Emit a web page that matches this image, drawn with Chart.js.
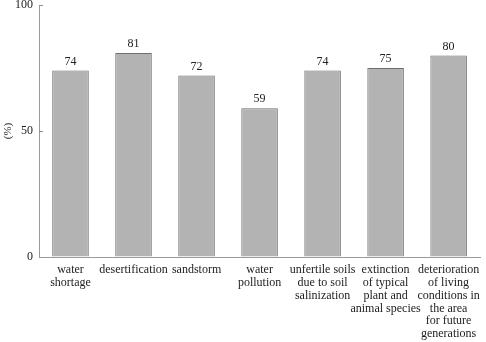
<!DOCTYPE html>
<html>
<head>
<meta charset="utf-8">
<script src="https://cdn.jsdelivr.net/npm/chart.js@4"></script>
<style>
  html, body { margin: 0; padding: 0; background: #fff; }
  #wrap { width: 486px; height: 342px; }
</style>
</head>
<body>
<div id="wrap"><canvas id="chart"></canvas></div>
<script>
// categories (multi-line labels) and values in %
const categories = [
  ['water', 'shortage'],
  ['desertification'],
  ['sandstorm'],
  ['water', 'pollution'],
  ['unfertile soils', 'due to soil', 'salinization'],
  ['extinction', 'of typical', 'plant and', 'animal species'],
  ['deterioration', 'of living', 'conditions in', 'the area', 'for future', 'generations']
];
const values = [74, 81, 72, 59, 74, 75, 80];
const yTicks = [0, 50, 100];

const serif = '"Liberation Serif", "Times New Roman", serif';

// numbers above each bar
const valueLabels = {
  id: 'valueLabels',
  afterDatasetsDraw(chart) {
    const ctx = chart.ctx;
    const meta = chart.getDatasetMeta(0);
    ctx.save();
    ctx.font = '12px ' + serif;
    ctx.fillStyle = '#222';
    ctx.textAlign = 'center';
    ctx.textBaseline = 'bottom';
    meta.data.forEach((bar, i) => {
      ctx.fillText(values[i], bar.x, bar.y - 3);
    });
    ctx.restore();
  }
};

// short tick marks pointing into the plot on the y axis
const innerTicks = {
  id: 'innerTicks',
  afterDraw(chart) {
    const ctx = chart.ctx;
    const y = chart.scales.y;
    ctx.save();
    ctx.strokeStyle = '#8a8a8a';
    ctx.lineWidth = 1;
    yTicks.slice(1).forEach(v => {
      const py = Math.round(y.getPixelForValue(v)) + 0.5;
      ctx.beginPath();
      ctx.moveTo(y.right, py);
      ctx.lineTo(y.right + 4, py);
      ctx.stroke();
    });
    ctx.restore();
  }
};

new Chart(document.getElementById('chart'), {
  type: 'bar',
  data: {
    labels: categories,
    datasets: [{
      data: values,
      backgroundColor: '#b3b3b3',
      borderColor: '#6e6e6e',
      borderWidth: 1,
      categoryPercentage: 1,
      barPercentage: 0.58
    }]
  },
  options: {
    responsive: true,
    maintainAspectRatio: false,
    animation: false,
    layout: { padding: { top: 5, right: 3, left: 0, bottom: 0 } },
    plugins: {
      legend: { display: false },
      tooltip: { enabled: false }
    },
    scales: {
      x: {
        grid: { display: false, drawTicks: false },
        border: { color: '#9a9a9a', width: 1 },
        ticks: {
          color: '#222',
          font: { family: serif, size: 12, lineHeight: 1.08 },
          padding: 6,
          maxRotation: 0,
          autoSkip: false
        },
        afterFit(scale) { scale.height = 85; }
      },
      y: {
        min: 0,
        max: 100,
        afterBuildTicks(scale) { scale.ticks = yTicks.map(v => ({ value: v })); },
        grid: { drawOnChartArea: false, drawTicks: false },
        border: { color: '#9a9a9a', width: 1 },
        ticks: {
          color: '#222',
          font: { family: serif, size: 12 },
          padding: 6
        },
        title: {
          display: true,
          text: '(%)',
          color: '#222',
          font: { family: serif, size: 11 },
          padding: { top: 2, bottom: 0 }
        },
        afterFit(scale) {
          scale.width = 39;
          scale.paddingTop = 0;
          scale.paddingBottom = 0;
        }
      }
    }
  },
  plugins: [valueLabels, innerTicks]
});
</script>
</body>
</html>
